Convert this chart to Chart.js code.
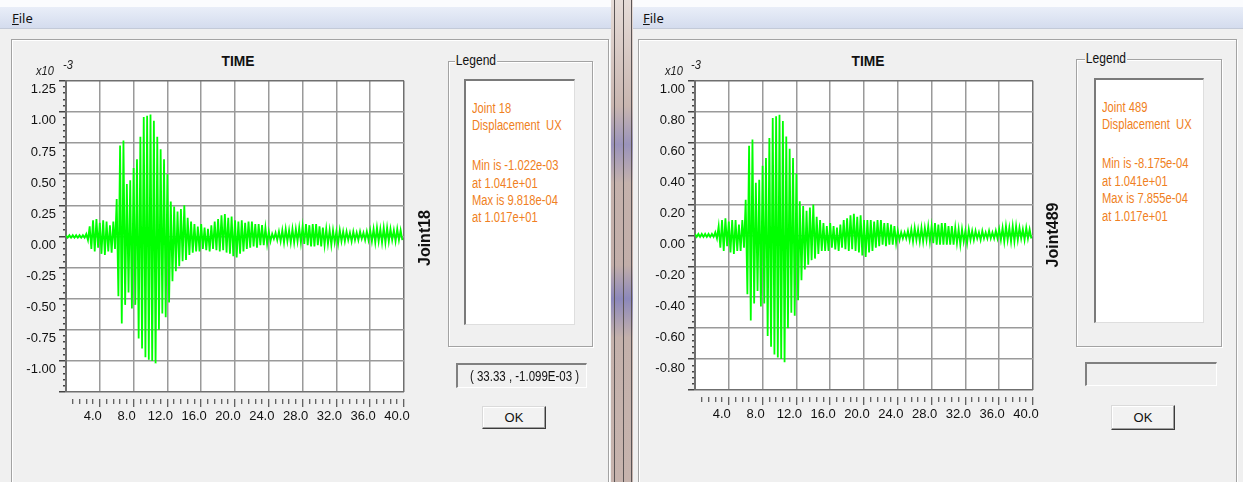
<!DOCTYPE html>
<html>
<head>
<meta charset="utf-8">
<script src="https://cdn.jsdelivr.net/npm/chart.js@4.4.1/dist/chart.umd.min.js"></script>
<style>
  body { margin:0; width:1243px; height:482px; overflow:hidden; background:#f0f0f0; position:relative;
         font-family:"Liberation Sans",Arial,sans-serif; }
  .abs { position:absolute; }
  .topwhite { top:0; height:7px; background:#fbfcfe; }
  .menubar { top:7px; height:21px; background:linear-gradient(#e9eef8,#d4dcee); border-bottom:1px solid #c3cad8; }
  .file { top:9px; font:13px "Noto Sans","DejaVu Sans",sans-serif; color:#111; }
  .group { border:1px solid #a3a3a3; box-shadow: inset 1px 1px 0 #fff, 1px 1px 0 #fff; }
  .title { font:bold 15px "Liberation Sans",Arial,sans-serif; color:#111; transform:translateX(-50%) scaleX(0.92); }
  .expo { font:italic 13px "Liberation Sans",Arial,sans-serif; color:#222; transform-origin:left top; transform:scaleX(0.85); }
  .vlabel { font:bold 16px "Liberation Sans",Arial,sans-serif; color:#111; white-space:nowrap;
            transform:translate(-50%,-50%) rotate(-90deg); }
  .legcap { font-size:14px; color:#111; background:#f0f0f0; padding:0 1px; transform-origin:left top; transform:scaleX(0.86); }
  .inner { background:#fff; border-top:2px solid #7a7a7a; border-left:2px solid #7a7a7a;
           border-bottom:1px solid #dedede; border-right:1px solid #dedede; }
  .leg { font-size:14px; color:#f07f22; white-space:nowrap; line-height:16px; transform-origin:left top; transform:scaleX(0.8); }
  .coord { background:#f0f0f0; border-top:2px solid #808080; border-left:2px solid #808080;
           border-bottom:1px solid #fff; border-right:1px solid #fff; font-size:14px; color:#111;
           text-align:center; line-height:22px; white-space:nowrap; }
  .coord span { display:inline-block; transform:scaleX(0.82); }
  .btn { background:#f2f2f2; border:1px solid; border-color:#dadada #3c3c3c #3c3c3c #dadada;
         box-shadow: inset -1px -1px 0 #a0a0a0, inset 1px 1px 0 #fff; font:13px "Liberation Sans",Arial,sans-serif;
         color:#111; text-align:center; }
  .divider { left:611px; top:0; width:22px; height:482px;
             background:linear-gradient(#e6dcd8 0, #c9b6b0 22%, #9a93bb 30%, #c5b2ac 38%, #c2aea9 55%, #8c88bb 62%, #c4b1ab 70%, #c6b3ad 100%); }
  .dline { top:0; width:1px; height:482px; background:#5b5555; }
  canvas { position:absolute; }
</style>
</head>
<body>
<!-- window chrome -->
<div class="abs topwhite" style="left:0;width:611px"></div>
<div class="abs topwhite" style="left:633px;width:610px"></div>
<div class="abs menubar" style="left:0;width:611px"></div>
<div class="abs menubar" style="left:633px;width:610px"></div>
<div class="abs file" style="left:12px"><u>F</u>ile</div>
<div class="abs file" style="left:643px"><u>F</u>ile</div>
<div class="abs divider"></div>
<div class="abs dline" style="left:614px"></div>
<div class="abs dline" style="left:623px"></div>
<div class="abs dline" style="left:631px"></div>

<div class="abs group" style="left:11px;top:39px;width:596px;height:470px"></div>
<div class="abs group" style="left:638px;top:39px;width:597px;height:470px"></div>

<!-- left window -->
<canvas id="c1" width="400" height="370" style="left:20px;top:70px"></canvas>
<div class="abs title" style="left:238px;top:52px">TIME</div>
<div class="abs expo" style="left:36px;top:63px">x10</div>
<div class="abs expo" style="left:63px;top:57px">-3</div>
<div class="abs vlabel" style="left:425px;top:238px">Joint18</div>

<div class="abs group" style="left:448px;top:61px;width:143px;height:284px"></div>
<div class="abs legcap" style="left:455px;top:52px">Legend</div>
<div class="abs inner" style="left:464px;top:79px;width:108px;height:243px"></div>
<div class="abs leg" style="left:472px;top:100px">Joint 18</div>
<div class="abs leg" style="left:472px;top:117px">Displacement&nbsp; UX</div>
<div class="abs leg" style="left:472px;top:157px">Min is -1.022e-03</div>
<div class="abs leg" style="left:472px;top:175px">at 1.041e+01</div>
<div class="abs leg" style="left:472px;top:192px">Max is 9.818e-04</div>
<div class="abs leg" style="left:472px;top:209px">at 1.017e+01</div>
<div class="abs coord" style="left:456px;top:363px;width:128px;height:22px"><span>( 33.33 , -1.099E-03 )</span></div>
<div class="abs btn" style="left:482px;top:406px;width:62px;height:21px;line-height:21px">OK</div>

<!-- right window -->
<canvas id="c2" width="400" height="370" style="left:650px;top:70px"></canvas>
<div class="abs title" style="left:868px;top:52px">TIME</div>
<div class="abs expo" style="left:665px;top:63px">x10</div>
<div class="abs expo" style="left:691px;top:57px">-3</div>
<div class="abs vlabel" style="left:1053px;top:235px">Joint489</div>

<div class="abs group" style="left:1076px;top:59px;width:144px;height:286px"></div>
<div class="abs legcap" style="left:1085px;top:50px">Legend</div>
<div class="abs inner" style="left:1094px;top:78px;width:107px;height:242px"></div>
<div class="abs leg" style="left:1102px;top:99px">Joint 489</div>
<div class="abs leg" style="left:1102px;top:116px">Displacement&nbsp; UX</div>
<div class="abs leg" style="left:1102px;top:155px">Min is -8.175e-04</div>
<div class="abs leg" style="left:1102px;top:173px">at 1.041e+01</div>
<div class="abs leg" style="left:1102px;top:190px">Max is 7.855e-04</div>
<div class="abs leg" style="left:1102px;top:208px">at 1.017e+01</div>
<div class="abs coord" style="left:1085px;top:362px;width:129px;height:21px"></div>
<div class="abs btn" style="left:1111px;top:405px;width:62px;height:23px;line-height:23px">OK</div>

<script>
// time between a positive and the following negative peak (s); values are x10^-3
const dt = 0.2;

// Joint 18 – positive peaks (t = 0, 0.4, 0.8 ...) and negative peaks (t = 0.2, 0.6 ...)
const joint18Up = [
  0.01,0.01,0.01,0.01,0.01,0.01,0.02,0.08,0.13,0.14,
  0.11,0.13,0.12,0.09,0.12,0.30,0.73,0.77,0.42,0.45,
  0.55,0.62,0.80,0.96,0.97,0.98,0.93,0.80,0.70,0.62,
  0.50,0.28,0.24,0.20,0.22,0.25,0.15,0.12,0.10,0.08,
  0.10,0.07,0.06,0.09,0.12,0.14,0.17,0.18,0.15,0.16,
  0.13,0.12,0.13,0.11,0.12,0.12,0.10,0.10,0.09,0.07,
  0.04,0.02,0.03,0.04,0.05,0.06,0.05,0.06,0.06,0.07,
  0.08,0.10,0.09,0.10,0.10,0.08,0.07,0.06,0.05,0.05,
  0.04,0.05,0.04,0.04,0.03,0.04,0.03,0.04,0.03,0.04,
  0.05,0.06,0.07,0.06,0.07,0.07,0.06,0.05,0.06,0.05
];
const joint18Down = [
  -0.01,-0.01,-0.01,-0.01,-0.01,-0.01,-0.03,-0.10,-0.12,-0.09,
  -0.14,-0.15,-0.12,-0.13,-0.10,-0.48,-0.70,-0.55,-0.45,-0.58,
  -0.55,-0.82,-0.90,-0.97,-0.99,-1.00,-1.02,-0.75,-0.62,-0.65,
  -0.53,-0.36,-0.28,-0.24,-0.20,-0.19,-0.15,-0.13,-0.12,-0.12,
  -0.10,-0.11,-0.12,-0.10,-0.11,-0.12,-0.11,-0.13,-0.14,-0.16,
  -0.17,-0.14,-0.12,-0.10,-0.09,-0.08,-0.09,-0.07,-0.07,-0.06,
  -0.04,-0.02,-0.03,-0.04,-0.05,-0.04,-0.05,-0.05,-0.04,-0.05,
  -0.06,-0.07,-0.08,-0.08,-0.07,-0.08,-0.07,-0.06,-0.07,-0.05,
  -0.06,-0.04,-0.04,-0.03,-0.04,-0.03,-0.03,-0.02,-0.03,-0.03,
  -0.04,-0.05,-0.04,-0.05,-0.05,-0.04,-0.03,-0.04,-0.03,-0.03
];

// Joint 489
const joint489Up = [
  0.01,0.01,0.01,0.01,0.01,0.01,0.02,0.06,0.10,0.11,
  0.09,0.10,0.10,0.07,0.10,0.23,0.58,0.62,0.34,0.36,
  0.45,0.50,0.63,0.76,0.77,0.78,0.74,0.64,0.56,0.50,
  0.40,0.22,0.19,0.16,0.18,0.20,0.12,0.10,0.08,0.06,
  0.08,0.06,0.05,0.07,0.10,0.11,0.13,0.14,0.12,0.13,
  0.10,0.10,0.10,0.09,0.10,0.10,0.08,0.08,0.07,0.06,
  0.03,0.02,0.02,0.03,0.04,0.05,0.04,0.05,0.05,0.06,
  0.06,0.08,0.07,0.08,0.08,0.06,0.06,0.05,0.04,0.04,
  0.03,0.04,0.03,0.03,0.02,0.03,0.02,0.03,0.02,0.03,
  0.04,0.05,0.06,0.05,0.06,0.06,0.05,0.04,0.05,0.04
];
const joint489Down = [
  -0.01,-0.01,-0.01,-0.01,-0.01,-0.01,-0.02,-0.08,-0.10,-0.07,
  -0.11,-0.12,-0.10,-0.10,-0.08,-0.38,-0.55,-0.44,-0.36,-0.46,
  -0.44,-0.65,-0.72,-0.77,-0.79,-0.80,-0.82,-0.60,-0.50,-0.52,
  -0.42,-0.29,-0.22,-0.19,-0.16,-0.15,-0.12,-0.10,-0.10,-0.10,
  -0.08,-0.09,-0.10,-0.08,-0.09,-0.10,-0.09,-0.10,-0.11,-0.13,
  -0.14,-0.11,-0.10,-0.08,-0.07,-0.06,-0.07,-0.06,-0.06,-0.05,
  -0.03,-0.02,-0.02,-0.03,-0.04,-0.03,-0.04,-0.04,-0.03,-0.04,
  -0.05,-0.06,-0.06,-0.06,-0.06,-0.06,-0.06,-0.05,-0.06,-0.04,
  -0.05,-0.03,-0.03,-0.02,-0.03,-0.02,-0.02,-0.02,-0.02,-0.02,
  -0.03,-0.04,-0.03,-0.04,-0.04,-0.03,-0.02,-0.03,-0.02,-0.02
];

// axis settings
const timeMin = 0, timeMax = 40, timeMinor = 0.8, timeMajor = 4;
const leftY  = { min:-1.25, max:1.25, minor:0.05, major:0.25 };
const rightY = { min:-1.00, max:1.00, minor:0.04, major:0.20 };

const FONT = '"Liberation Sans", Arial, sans-serif';

function toPoints(up, down) {
  const pts = [];
  for (let i = 0; i < up.length; i++) {
    pts.push({ x: 2 * i * dt, y: up[i] });
    pts.push({ x: (2 * i + 1) * dt, y: down[i] });
  }
  return pts;
}

function isMajor(v, step) {
  return Math.abs(v / step - Math.round(v / step)) < 1e-6;
}

// white plot area
const plotBg = {
  id: 'plotBg',
  beforeDraw(chart) {
    const { ctx, chartArea: a } = chart;
    ctx.save();
    ctx.fillStyle = '#ffffff';
    ctx.fillRect(a.left, a.top, a.right - a.left, a.bottom - a.top);
    ctx.restore();
  }
};

function makeChart(id, pts, ys, yWidth, xHeight, padRight) {
  new Chart(document.getElementById(id), {
    type: 'line',
    data: {
      datasets: [{
        data: pts,
        borderColor: '#00ff00',
        borderWidth: 1.8,
        pointRadius: 0,
        tension: 0,
        fill: false
      }]
    },
    options: {
      responsive: false,
      animation: false,
      layout: { padding: { top: 9, right: padRight, left: 0, bottom: 0 } },
      plugins: { legend: { display: false }, tooltip: { enabled: false } },
      scales: {
        x: {
          type: 'linear',
          min: timeMin, max: timeMax,
          afterFit: s => { s.height = xHeight; },
          border: { display: false },
          grid: {
            drawOnChartArea: true,
            tickLength: 15,
            tickColor: '#333',
            tickWidth: 1,
            lineWidth: 1.5,
            color: c => {
              const v = c.tick.value;
              if (!isMajor(v, timeMajor)) return 'rgba(0,0,0,0)';
              return (v === timeMin || v === timeMax) ? '#6f6f6f' : '#9a9a9a';
            },
            tickBorderDash: c => {
              const v = c.tick.value;
              if (v <= timeMin) return [0, 100];
              return isMajor(v, timeMajor) ? [0, 7, 8, 100] : [0, 7, 5, 100];
            }
          },
          ticks: {
            stepSize: timeMinor,
            autoSkip: false,
            maxRotation: 0,
            padding: 2,
            labelOffset: -7,
            color: '#111',
            font: { family: FONT, size: 13 },
            callback: v => (v > timeMin && isMajor(v, timeMajor)) ? v.toFixed(1) : ''
          }
        },
        y: {
          min: ys.min, max: ys.max,
          afterFit: s => { s.width = yWidth; },
          border: { display: true, color: '#6f6f6f', width: 2 },
          grid: {
            tickLength: 7,
            tickColor: '#444',
            lineWidth: 1.5,
            color: c => {
              const v = c.tick.value;
              if (!isMajor(v, ys.major)) return 'rgba(0,0,0,0)';
              return (Math.abs(v - ys.max) < 1e-6 || Math.abs(v - ys.min) < 1e-6) ? '#6f6f6f' : '#9a9a9a';
            },
            tickBorderDash: c => isMajor(c.tick.value, ys.major) ? [] : [0, 4, 3, 100]
          },
          ticks: {
            stepSize: ys.minor,
            autoSkip: false,
            padding: 3,
            labelOffset: 9,
            color: '#111',
            font: { family: FONT, size: 13 },
            callback: v => (isMajor(v, ys.major) && v > ys.min + 1e-6) ? v.toFixed(2) : ''
          }
        }
      }
    },
    plugins: [plotBg]
  });
}

makeChart('c1', toPoints(joint18Up, joint18Down), leftY, 46, 48, 16);
makeChart('c2', toPoints(joint489Up, joint489Down), rightY, 45, 50, 17);
</script>
</body>
</html>
